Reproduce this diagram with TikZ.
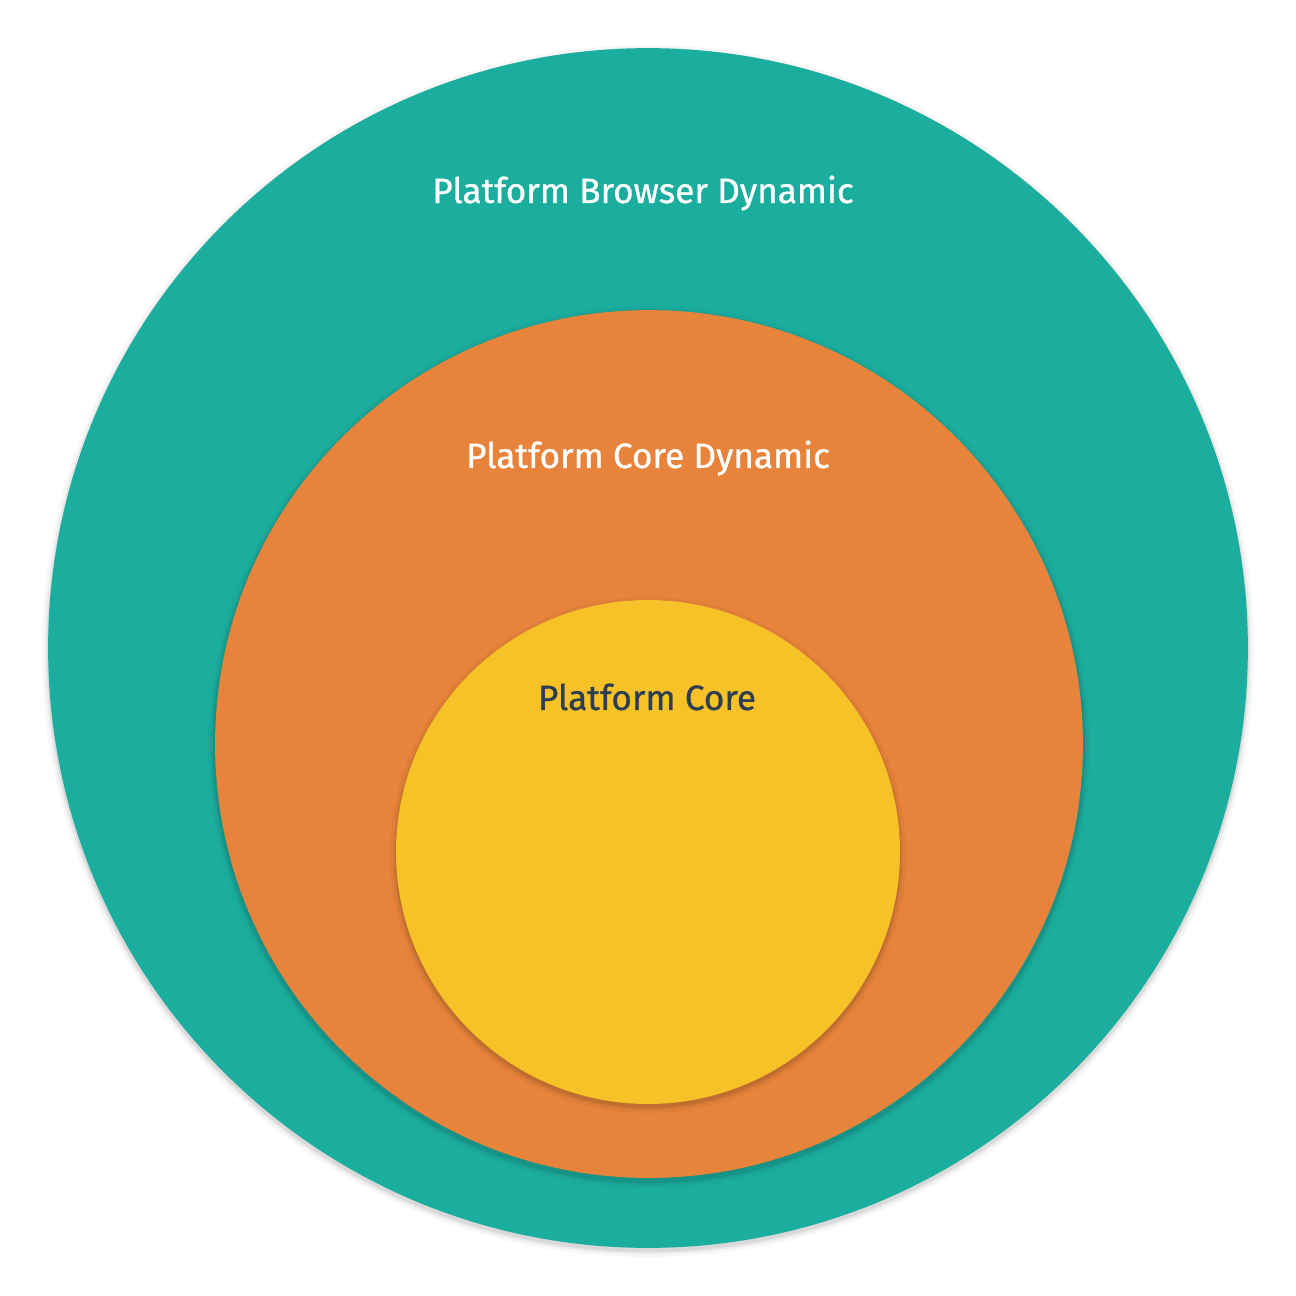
\documentclass[tikz,border=0pt]{standalone}
\usepackage{fontspec}
\setmainfont{Fira Sans}
\newfontfamily\lblfont{Fira Sans}[FakeBold=0.8]
\definecolor{teal}{HTML}{1BAE9F}
\definecolor{orangec}{HTML}{E7833A}
\definecolor{yellowc}{HTML}{F6C227}
\definecolor{darktext}{HTML}{2C3E50}
\begin{document}
\begin{tikzpicture}[x=0.02cm,y=-0.02cm,
  ring/.style={circle,inner sep=0pt,draw=none},
  lbl/.style={font=\lblfont\fontsize{20}{24}\selectfont}]
\useasboundingbox (0,0) rectangle (1296,1296);
\fill[white] (0,0) rectangle (1296,1296);
% soft shadows
\foreach \r/\o in {606/0.03,603/0.05,601/0.07}{\fill[black,opacity=\o] (648,651) circle[radius=\r*0.02cm];}
\node[ring,fill=teal,minimum size=24cm] (outer) at (648,648) {};
\foreach \r/\o in {441/0.03,438/0.05,436/0.08}{\fill[black,opacity=\o] (649,747) circle[radius=\r*0.02cm];}
\node[ring,fill=orangec,minimum size=17.36cm] (mid) at (649,744) {};
\foreach \r/\o in {258/0.03,255/0.05,253/0.08}{\fill[black,opacity=\o] (648,855) circle[radius=\r*0.02cm];}
\node[ring,fill=yellowc,minimum size=10.08cm] (inner) at (648,852) {};
\node[lbl,text=white] (t1) at (643,193) {Platform Browser Dynamic};
\node[lbl,text=white] (t2) at (648,458) {Platform Core Dynamic};
\node[lbl,text=darktext] (t3) at (647,697) {Platform Core};
\end{tikzpicture}
\end{document}
